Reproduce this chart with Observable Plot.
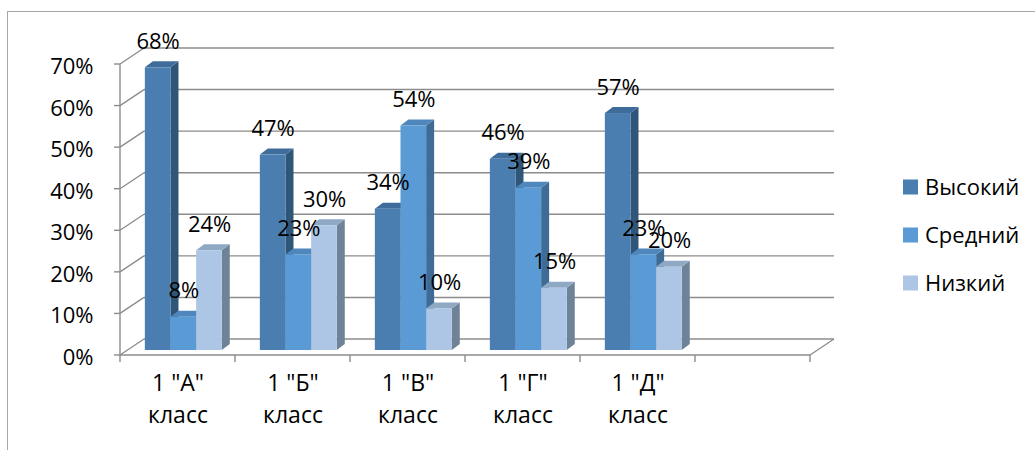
<!DOCTYPE html>
<html>
<head>
<meta charset="utf-8">
<script src="https://cdn.jsdelivr.net/npm/d3@7"></script>
<script src="https://cdn.jsdelivr.net/npm/@observablehq/plot@0.6"></script>
<style>
  html, body { margin: 0; padding: 0; background: #fff; overflow: hidden; }
  #wrap { position: relative; width: 1035px; height: 450px; overflow: hidden; }
  #border { position: absolute; left: 7px; top: 11px; width: 1100px; height: 600px; border: 1px solid #a6a6a6; box-sizing: border-box; }
  #chart { position: absolute; left: 0; top: 0; }
  svg text { font-family: "Open Sans", "Noto Sans", sans-serif; }
</style>
</head>
<body>
<div id="wrap"><div id="border"></div><div id="chart"></div></div>
<script>
// ---- data ----
const classes = ["1 \"А\"", "1 \"Б\"", "1 \"В\"", "1 \"Г\"", "1 \"Д\""];
const classWord = "класс";
const series = ["Высокий", "Средний", "Низкий"];
const high = [0.68, 0.47, 0.34, 0.46, 0.57];
const mid  = [0.08, 0.23, 0.54, 0.39, 0.23];
const low  = [0.24, 0.30, 0.10, 0.15, 0.20];
const yTicks = [0, 0.1, 0.2, 0.3, 0.4, 0.5, 0.6, 0.7];
const frontColors = ["#4a7eb1", "#5b9bd5", "#adc6e5"];
const topColors   = ["#3f6d9b", "#4f86bb", "#8fa8c4"];
const sideColors  = ["#2f5579", "#3e6c96", "#6e8398"];

const seriesValues = [high, mid, low];
const rows = [];
classes.forEach((c, i) => series.forEach((s, j) => rows.push({cls: c, series: s, si: j, value: seriesValues[j][i]})));

const pct = d3.format(".0%");
const xDomain = [...classes, "\u200b"];

// walls, floor and gridlines
function walls(index, scales) {
  const x = scales.x, y = scales.y;
  const bw = x(xDomain[1]) - x(xDomain[0]);
  const xL = x(xDomain[0]), xR = x(xDomain[xDomain.length - 1]) + bw;
  const DX = 24, DY = 16;
  const g = d3.create("svg:g").attr("stroke", "#8c8c8c").attr("stroke-width", 1.4).attr("fill", "none");
  for (const t of yTicks) {
    const yy = y(t);
    g.append("line").attr("x1", xL + DX).attr("x2", xR + DX).attr("y1", yy - DY).attr("y2", yy - DY);
    g.append("line").attr("x1", xL).attr("x2", xL + DX).attr("y1", yy).attr("y2", yy - DY);
    g.append("line").attr("x1", xL - 6).attr("x2", xL).attr("y1", yy).attr("y2", yy);
  }
  const y0 = y(0);
  g.append("line").attr("x1", xL).attr("x2", xL).attr("y1", y0).attr("y2", y(0.7));
  g.append("line").attr("x1", xL).attr("x2", xR).attr("y1", y0).attr("y2", y0);
  g.append("line").attr("x1", xR).attr("x2", xR + DX).attr("y1", y0).attr("y2", y0 - DY);
  for (let k = 0; k <= xDomain.length; k++) {
    const xx = xL + k * bw;
    g.append("line").attr("x1", xx).attr("x2", xx).attr("y1", y0).attr("y2", y0 + 7);
  }
  return g.node();
}

// 3D bars
function bars(index, scales) {
  const x = scales.x, y = scales.y;
  const bw = x(xDomain[1]) - x(xDomain[0]);
  const off = 0.216 * bw, w = 0.223 * bw;
  const fy = 5, dx = 8, dy = 6;
  const g = d3.create("svg:g");
  for (const r of rows) {
    const x0 = x(r.cls) + off + r.si * w;
    const x1 = x0 + w;
    const yb = y(0) - fy, yt = y(r.value) - fy;
    g.append("path").attr("fill", sideColors[r.si])
      .attr("d", `M${x1},${yb}L${x1 + dx},${yb - dy}L${x1 + dx},${yt - dy}L${x1},${yt}Z`);
    g.append("path").attr("fill", topColors[r.si])
      .attr("d", `M${x0},${yt}L${x0 + dx},${yt - dy}L${x1 + dx},${yt - dy}L${x1},${yt}Z`);
    g.append("rect").attr("fill", frontColors[r.si])
      .attr("x", x0).attr("y", yt).attr("width", w).attr("height", yb - yt);
  }
  return g.node();
}

// legend on the right
function legend() {
  const g = d3.create("svg:g").attr("text-anchor", "start");
  series.forEach((s, j) => {
    const cy = 187 + j * 48;
    g.append("rect").attr("x", 903).attr("y", cy - 7.5).attr("width", 15).attr("height", 15).attr("fill", frontColors[j]);
    g.append("text").attr("x", 925).attr("y", cy).attr("dy", "0.36em").attr("font-size", 22)
      .attr("fill", "#000").text(s);
  });
  return g.node();
}

const bwTmp = (812 - 118) / 6;
const labelDx = [0, 1, 2].map(j => 0.216 * bwTmp + j * 0.223 * bwTmp + 0.223 * bwTmp / 2 - bwTmp / 2);

const chart = Plot.plot({
  width: 1035,
  height: 450,
  marginLeft: 118,
  marginRight: 223,
  marginTop: 64,
  marginBottom: 95,
  style: {background: "transparent", fontFamily: "'Open Sans', 'Noto Sans', sans-serif"},
  x: {type: "band", domain: xDomain, padding: 0, axis: null},
  y: {domain: [0, 0.7], axis: null},
  marks: [
    walls,
    bars,
    Plot.text(yTicks, {y: d => d, text: d => pct(d), frameAnchor: "left", dx: -25, dy: 2.5, textAnchor: "end", fontSize: 22, fill: "#000"}),
    Plot.text(classes, {x: d => d, text: d => d, frameAnchor: "bottom", dy: 35, fontSize: 23, fill: "#000"}),
    Plot.text(classes, {x: d => d, text: () => classWord, frameAnchor: "bottom", dy: 67, fontSize: 23, fill: "#000"}),
    ...[0, 1, 2].map(j => Plot.text(rows.filter(r => r.si === j), {
      x: "cls", y: "value", text: d => pct(d.value), dx: labelDx[j], dy: -31, fontSize: 22, fill: "#000"
    })),
    legend
  ]
});
document.getElementById("chart").append(chart);
</script>
</body>
</html>
